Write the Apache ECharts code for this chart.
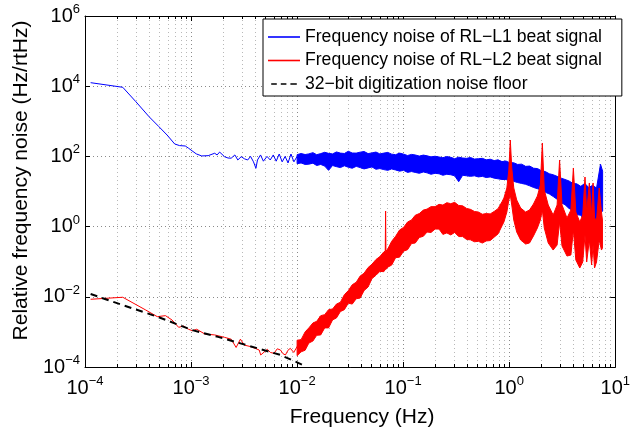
<!DOCTYPE html>
<html>
<head>
<meta charset="utf-8">
<script src="https://cdn.jsdelivr.net/npm/echarts@6/dist/echarts.min.js"></script>
<style>html,body{margin:0;padding:0;background:#fff}#c{width:633px;height:438px}</style>
</head>
<body>
<div id="c"></div>
<script>
// ---------------- data ----------------
const seriesNames = ['Frequency noise of RL\u2212L1 beat signal', 'Frequency noise of RL\u2212L2 beat signal', '32\u2212bit digitization noise floor'];
const xTickExps = [-4, -3, -2, -1, 0, 1];
const yTickExps = [-4, -2, 0, 2, 4, 6];
const minorMultipliers = [2, 3, 4, 5, 6, 7, 8, 9];

// RL-L1: single trace at low frequencies (Hz, Hz/rtHz)
const l1Freq = [1.13e-4, 2.27e-4, 3.02e-4, 4.02e-4, 4.98e-4, 5.94e-4, 7.01e-4, 7.8e-4, 8.82e-4, 9.5e-4, 1.02e-3, 1.12e-3, 1.26e-3, 1.45e-3, 1.67e-3, 1.76e-3, 1.86e-3, 2.07e-3, 2.23e-3, 2.39e-3, 2.59e-3, 2.76e-3, 2.97e-3, 3.2e-3, 3.42e-3, 3.64e-3, 3.88e-3, 4.09e-3, 4.23e-3, 4.52e-3, 4.81e-3, 5.2e-3, 5.58e-3, 5.96e-3, 6.35e-3, 6.78e-3, 7.23e-3, 7.71e-3, 8.21e-3, 8.75e-3, 9.33e-3, 0.01, 0.0107, 0.0115, 0.0123];
const l1Noise = [12600, 9310, 3610, 1350, 702, 407, 226, 203, 198, 170, 145, 118, 103, 105, 123, 110, 133, 98, 90, 89, 110, 79, 98, 85, 79, 100, 70, 46, 79, 110, 73, 100, 79, 110, 73, 117, 70, 100, 65, 117, 70, 100, 68, 112, 75];
// RL-L1: noise band (upper / lower envelope) at higher frequencies
const l1BandFreq = [0.01, 0.0109, 0.0119, 0.0129, 0.0141, 0.0153, 0.0167, 0.0182, 0.0198, 0.0216, 0.0235, 0.0256, 0.0279, 0.0304, 0.0331, 0.0361, 0.0393, 0.0428, 0.0467, 0.0508, 0.0554, 0.0603, 0.0657, 0.0716, 0.0779, 0.0849, 0.0925, 0.101, 0.110, 0.120, 0.130, 0.142, 0.155, 0.168, 0.183, 0.200, 0.218, 0.237, 0.258, 0.281, 0.306, 0.334, 0.364, 0.396, 0.431, 0.470, 0.512, 0.558, 0.607, 0.662, 0.721, 0.785, 0.855, 0.931, 1.01, 1.10, 1.20, 1.31, 1.43, 1.56, 1.70, 1.85, 2.01, 2.19, 2.39, 2.60, 2.83, 3.09, 3.36, 3.66, 3.99, 4.34, 4.73, 5.16, 5.62, 6.12, 6.66, 7.26, 7.60];
const l1BandUpper = [112, 121, 113, 118, 128, 112, 120, 131, 122, 118, 134, 124, 121, 140, 125, 124, 132, 138, 120, 126, 133, 118, 124, 130, 116, 112, 124, 116, 106, 114, 110, 102, 109, 104, 97, 101, 96, 92, 99, 94, 86, 95, 90, 88, 93, 84, 86, 88, 80, 83, 76, 80, 71, 74, 66, 66, 59, 60, 52, 53, 46, 45, 39, 37, 32, 30, 27, 24, 22, 20, 17, 16.5, 14, 17, 13, 15, 12.5, 60, 38];
const l1BandLower = [62, 65, 59, 60, 64, 55, 59, 53, 40, 55, 51, 48, 54, 49, 46, 52, 48, 44, 47, 50, 43, 45, 42, 40, 44, 41, 38, 40, 35, 37, 35, 33, 36, 34, 31, 33, 32, 29, 31, 30, 28, 19, 29, 28, 27, 28, 26, 27, 25, 26, 24, 23, 22, 22, 20, 19.5, 18, 17, 16, 14.5, 13, 12, 11, 9.5, 8.5, 7.2, 6, 4.8, 4.2, 3.3, 2.9, 2.2, 2.1, 1.5, 1.8, 1.3, 1.6, 2.4, 2.8];

// RL-L2: single trace at low frequencies
const l2Freq = [1.13e-4, 2.27e-4, 3.74e-4, 4.8e-4, 5.74e-4, 6.62e-4, 7.64e-4, 8.49e-4, 9.46e-4, 1.03e-3, 1.13e-3, 1.35e-3, 1.67e-3, 2.07e-3, 2.39e-3, 2.66e-3, 2.92e-3, 3.18e-3, 3.66e-3, 4.39e-3, 4.54e-3, 5.24e-3, 5.6e-3, 6.05e-3, 6.5e-3, 6.97e-3, 7.35e-3, 7.76e-3, 8.2e-3, 8.63e-3, 9.3e-3, 0.01, 0.0107, 0.0115, 0.0123, 0.0132, 0.0142, 0.0153, 0.0164, 0.0175, 0.0182];
const l2Noise = [0.0085, 0.0097, 0.0042, 0.00272, 0.0029, 0.00218, 0.00135, 0.00147, 0.00119, 0.00108, 0.00119, 0.00087, 0.00082, 0.0007, 0.00062, 0.00036, 0.00062, 0.00042, 0.00038, 0.000305, 0.00022, 0.00032, 0.00026, 0.000245, 0.00033, 0.000305, 0.00024, 0.00022, 0.0003, 0.00034, 0.00026, 0.00038, 0.00059, 0.0005, 0.00113, 0.0009, 0.00176, 0.0015, 0.00272, 0.0022, 0.00303];
// RL-L2: noise band with resonance peaks
const l2BandFreq = [0.01, 0.0109, 0.0119, 0.0129, 0.0141, 0.0153, 0.0167, 0.0182, 0.0198, 0.0216, 0.0235, 0.0256, 0.0279, 0.0304, 0.0331, 0.0361, 0.0393, 0.0428, 0.0467, 0.0508, 0.0554, 0.0603, 0.0657, 0.0678, 0.0683, 0.0688, 0.0716, 0.0779, 0.0849, 0.0925, 0.101, 0.110, 0.120, 0.130, 0.142, 0.155, 0.168, 0.183, 0.200, 0.218, 0.237, 0.258, 0.281, 0.306, 0.334, 0.364, 0.396, 0.431, 0.470, 0.512, 0.558, 0.607, 0.662, 0.721, 0.785, 0.855, 0.891, 0.950, 0.992, 1.024, 1.057, 1.104, 1.177, 1.282, 1.427, 1.554, 1.693, 1.844, 1.966, 2.053, 2.142, 2.334, 2.597, 2.829, 2.985, 3.148, 3.505, 3.817, 4.027, 4.249, 4.629, 4.935, 5.184, 5.376, 5.695, 5.982, 6.177, 6.379, 6.658, 7.055, 7.411, 7.571];
const l2BandUpper = [0.00058, 0.0006, 0.001, 0.0013, 0.0018, 0.002, 0.0029, 0.0031, 0.0043, 0.0045, 0.0062, 0.007, 0.0115, 0.015, 0.022, 0.026, 0.039, 0.047, 0.068, 0.085, 0.115, 0.14, 0.19, 0.2, 2.78, 0.2, 0.23, 0.38, 0.53, 0.8, 0.95, 1.35, 1.55, 2.1, 2.35, 2.95, 3.15, 3.7, 3.7, 4.3, 4.1, 4.8, 4.5, 4.9, 4.0, 3.9, 3.3, 3.1, 2.7, 2.6, 2.25, 2.35, 2.3, 2.7, 3.25, 5.1, 6.5, 12.6, 41, 293, 46.8, 12.6, 5.73, 3.39, 2.6, 2.97, 4.4, 7.45, 15.3, 241, 11, 4.12, 2.14, 4.12, 78.9, 4.12, 1.76, 2.97, 46.8, 2.6, 1.35, 2.14, 25.9, 2.6, 17.5, 2.14, 17.5, 1.76, 1.54, 12.6, 2.6, 1.54];
const l2BandLower = [0.00021, 0.00027, 0.0003, 0.00048, 0.00055, 0.0008, 0.00082, 0.0013, 0.0013, 0.0022, 0.0025, 0.0038, 0.0043, 0.0066, 0.0062, 0.0088, 0.0092, 0.015, 0.019, 0.033, 0.041, 0.053, 0.052, 0.06, 0.06, 0.06, 0.07, 0.08, 0.13, 0.135, 0.2, 0.22, 0.33, 0.34, 0.49, 0.53, 0.7, 0.68, 0.85, 0.85, 0.6, 0.66, 0.58, 0.68, 0.52, 0.52, 0.43, 0.42, 0.37, 0.38, 0.34, 0.39, 0.4, 0.5, 0.62, 1.05, 1.35, 2.6, 5.73, 7.9, 4.12, 1.54, 0.702, 0.415, 0.319, 0.341, 0.54, 0.912, 1.54, 2.97, 0.912, 0.341, 0.215, 0.299, 1.35, 0.28, 0.145, 0.155, 0.8, 0.112, 0.0662, 0.098, 0.577, 0.098, 0.415, 0.0805, 0.299, 0.0662, 0.098, 0.415, 0.215, 0.246];

// 32-bit digitization noise floor
const floorFreq = [1.13e-4, 2.27e-4, 4.8e-4, 1.02e-3, 1.8e-3, 6.97e-3, 0.0119];
const floorNoise = [0.012, 0.0058, 0.00272, 0.00113, 0.00072, 0.00022, 0.000107];

// ---------------- chart ----------------
const FONT = 'Liberation Sans, Arial, Helvetica, sans-serif';
const X_MIN = 1e-4, X_MAX = 10, Y_MIN = 1e-4, Y_MAX = 1e6;

const zip = (a, b) => a.map((v, i) => [v, b[i]]);
const minorGridFreqs = [];
xTickExps.slice(0, -1).forEach(e => minorMultipliers.forEach(m => minorGridFreqs.push(m * Math.pow(10, e))));

function expLabel(v) {
  const e = Math.round(Math.log10(v));
  return '{b|10}{s|' + (e < 0 ? '\u2212' + (-e) : String(e)) + '}';
}
const richLabel = {
  b: { fontSize: 20, fontFamily: FONT, color: '#000', lineHeight: 26 },
  s: { fontSize: 13, fontFamily: FONT, color: '#000', lineHeight: 12, verticalAlign: 'top' }
};

function bandSeries(name, f, up, lo, color, z) {
  return {
    type: 'custom', name: name, coordinateSystem: 'cartesian2d', clip: true, silent: true, z: z,
    data: [[f[0], up[0]]],
    renderItem: function (params, api) {
      const pts = [];
      for (let i = 0; i < f.length; i++) pts.push(api.coord([f[i], up[i]]));
      for (let i = f.length - 1; i >= 0; i--) pts.push(api.coord([f[i], lo[i]]));
      return { type: 'polygon', shape: { points: pts }, style: { fill: color, stroke: color, lineWidth: 1 } };
    }
  };
}

const legendIcons = ['rect', 'rect', 'path://M0,0h7v2h-7zM12,0h7v2h-7zM24,0h8v2h-8z'];

const chart = echarts.init(document.getElementById('c'), null, { renderer: 'canvas' });
chart.setOption({
  animation: false,
  backgroundColor: '#fff',
  grid: { left: 85, right: 10, top: 16, bottom: 71, containLabel: false },
  legend: {
    data: seriesNames.map((n, i) => ({ name: n, icon: legendIcons[i] })),
    orient: 'vertical', left: 263, top: 19,
    itemWidth: 32, itemHeight: 1.6, itemGap: 5.5,
    padding: [9, 20, 3, 5],
    backgroundColor: '#fff', borderColor: '#000', borderWidth: 1, borderRadius: 0,
    textStyle: { fontSize: 17.6, fontFamily: FONT, color: '#000' },
    selectedMode: false
  },
  xAxis: [{
    type: 'log', logBase: 10, min: X_MIN, max: X_MAX,
    name: 'Frequency (Hz)', nameLocation: 'middle', nameGap: 40,
    nameTextStyle: { fontSize: 21, fontFamily: FONT, color: '#000', padding: [0, 0, 0, 24] },
    axisLine: { show: true, onZero: false, lineStyle: { color: '#000', width: 1 } },
    axisTick: { show: true, inside: true, length: 5, lineStyle: { color: '#000' } },
    axisLabel: { formatter: expLabel, rich: richLabel, margin: 8, showMaxLabel: true },
    splitLine: { show: true, lineStyle: { color: '#8a8a8a', type: [1, 3], width: 1 } }
  }, {
    type: 'log', logBase: 10, min: X_MIN, max: X_MAX, position: 'top',
    axisLine: { show: true, onZero: false, lineStyle: { color: '#000', width: 1 } },
    axisTick: { show: true, inside: true, length: 5, lineStyle: { color: '#000' } },
    axisLabel: { show: false }, splitLine: { show: false }
  }],
  yAxis: [{
    type: 'log', logBase: 100, min: Y_MIN, max: Y_MAX,
    name: 'Relative frequency noise (Hz/rtHz)', nameLocation: 'middle', nameGap: 52,
    nameTextStyle: { fontSize: 21, fontFamily: FONT, color: '#000', padding: [0, 0, 0, 22] },
    axisLine: { show: true, onZero: false, lineStyle: { color: '#000', width: 1 } },
    axisTick: { show: true, inside: true, length: 5, lineStyle: { color: '#000' } },
    axisLabel: { formatter: expLabel, rich: richLabel, margin: 5 },
    splitLine: { show: true, lineStyle: { color: '#8a8a8a', type: [1, 3], width: 1 } }
  }, {
    type: 'log', logBase: 100, min: Y_MIN, max: Y_MAX, position: 'right',
    axisLine: { show: true, onZero: false, lineStyle: { color: '#000', width: 1 } },
    axisTick: { show: true, inside: true, length: 5, lineStyle: { color: '#000' } },
    axisLabel: { show: false }, splitLine: { show: false }
  }],
  series: [
    {
      type: 'custom', name: 'minor grid', coordinateSystem: 'cartesian2d', silent: true, z: 1,
      data: minorGridFreqs.map(f => [f, Y_MIN]),
      renderItem: function (params, api) {
        const p = api.coord([api.value(0), Y_MIN]);
        const cs = params.coordSys;
        const x = Math.round(p[0]) + 0.5;
        return { type: 'group', children: [
          { type: 'line', shape: { x1: x, y1: cs.y, x2: x, y2: cs.y + cs.height }, style: { stroke: '#b8b8b8', lineWidth: 1, lineDash: [1, 3] } },
          { type: 'line', shape: { x1: x, y1: cs.y + cs.height, x2: x, y2: cs.y + cs.height - 3 }, style: { stroke: '#000', lineWidth: 1 } },
          { type: 'line', shape: { x1: x, y1: cs.y, x2: x, y2: cs.y + 3 }, style: { stroke: '#000', lineWidth: 1 } }
        ] };
      }
    },
    bandSeries('L1 band', l1BandFreq, l1BandUpper, l1BandLower, '#0000ff', 3),
    {
      type: 'line', name: seriesNames[0], data: zip(l1Freq, l1Noise), z: 4,
      symbol: 'none', showSymbol: false, lineStyle: { color: '#0000ff', width: 1 }, itemStyle: { color: '#0000ff' }
    },
    bandSeries('L2 band', l2BandFreq, l2BandUpper, l2BandLower, '#ff0000', 5),
    {
      type: 'line', name: seriesNames[1], data: zip(l2Freq, l2Noise), z: 6,
      symbol: 'none', showSymbol: false, lineStyle: { color: '#ff0000', width: 1 }, itemStyle: { color: '#ff0000' }
    },
    {
      type: 'line', name: seriesNames[2], data: zip(floorFreq, floorNoise), z: 7,
      symbol: 'none', showSymbol: false, lineStyle: { color: '#000', width: 2, type: [7, 5] }, itemStyle: { color: '#000' }
    }
  ]
});
</script>
</body>
</html>
